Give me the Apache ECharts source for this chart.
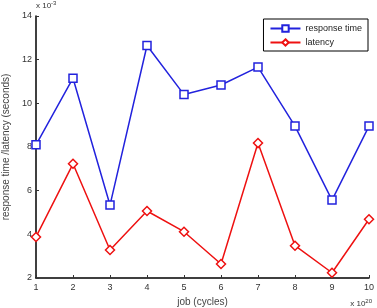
<!DOCTYPE html>
<html>
<head>
<meta charset="utf-8">
<script src="https://cdn.jsdelivr.net/npm/echarts@6/dist/echarts.min.js"></script>
<style>
  html, body { margin: 0; padding: 0; background: #fff; }
  #chart { width: 377px; height: 308px; }
</style>
</head>
<body>
<div id="chart"></div>
<script>
  // job index (x 10^20 cycles)
  const jobs = [1, 2, 3, 4, 5, 6, 7, 8, 9, 10]
  // seconds (x 10^-3)
  const responseTime = [8.1, 11.15, 5.34, 12.65, 10.4, 10.84, 11.66, 8.96, 5.57, 8.96]
  const latency = [3.88, 7.23, 3.28, 5.07, 4.12, 2.64, 8.18, 3.48, 2.24, 4.69]

  const font = "Liberation Sans, Arial, sans-serif"

  const pairs = (ys) => jobs.map((x, i) => [x, ys[i]])

  let myChart = echarts.init(document.getElementById("chart"))
  myChart.setOption({
    animation: false,
    textStyle: { fontFamily: font },
    grid: {
      left: 36,
      right: 8,
      top: 16,
      bottom: 30,
      outerBoundsMode: "none",
      containLabel: false
    },
    legend: {
      right: 9,
      top: 19,
      orient: "vertical",
      itemWidth: 30,
      itemHeight: 8,
      itemGap: 5,
      padding: [5, 6, 4, 6],
      borderColor: "#000",
      borderWidth: 1,
      textStyle: { fontSize: 9, color: "#222", fontFamily: font },
      data: ["response time", "latency"]
    },
    xAxis: {
      type: "value",
      min: 1,
      max: 10,
      interval: 1,
      name: "job (cycles)",
      nameLocation: "middle",
      nameGap: 17,
      nameTextStyle: { fontSize: 10, color: "#444" },
      axisLine: { lineStyle: { color: "#000", width: 1.5 } },
      axisTick: { inside: true, length: 3, lineStyle: { color: "#333" } },
      axisLabel: { fontSize: 9, color: "#333", margin: 5 },
      splitLine: { show: false }
    },
    yAxis: {
      type: "value",
      min: 2,
      max: 14,
      interval: 2,
      name: "response time /latency (seconds)",
      nameLocation: "middle",
      nameGap: 21,
      nameTextStyle: { fontSize: 10, color: "#444" },
      axisLine: { show: true, lineStyle: { color: "#000", width: 1.5 } },
      axisTick: { show: true, inside: true, length: 3, lineStyle: { color: "#333" } },
      axisLabel: { fontSize: 9, color: "#333", margin: 4 },
      splitLine: { show: false }
    },
    graphic: [
      {
        type: "text",
        left: 36,
        top: 0,
        style: {
          text: "x 10{s|-3}",
          fontSize: 8,
          fill: "#333",
          fontFamily: font,
          rich: { s: { fontSize: 6, verticalAlign: "top", padding: [0, 0, 6, 0] } }
        }
      },
      {
        type: "text",
        right: 5,
        bottom: 0,
        style: {
          text: "x 10{s|20}",
          fontSize: 8,
          fill: "#333",
          fontFamily: font,
          rich: { s: { fontSize: 6, verticalAlign: "top", padding: [0, 0, 6, 0] } }
        }
      }
    ],
    series: [
      {
        name: "response time",
        type: "line",
        data: pairs(responseTime),
        symbol: "rect",
        symbolSize: 8,
        itemStyle: { color: "#fff", borderColor: "#2222dd", borderWidth: 1.5 },
        lineStyle: { color: "#2222dd", width: 1.5 }
      },
      {
        name: "latency",
        type: "line",
        data: pairs(latency),
        symbol: "diamond",
        symbolSize: 9,
        itemStyle: { color: "#fff", borderColor: "#ee1111", borderWidth: 1.5 },
        lineStyle: { color: "#ee1111", width: 1.5 }
      }
    ]
  })
</script>
</body>
</html>
